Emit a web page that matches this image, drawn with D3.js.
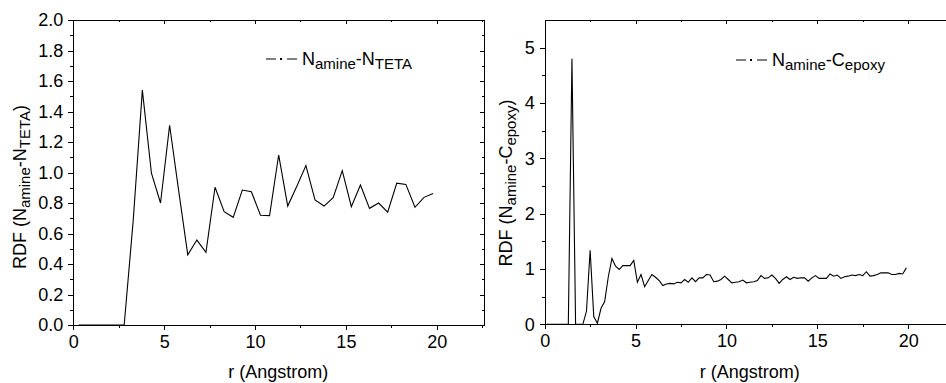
<!DOCTYPE html>
<html>
  <head>
    <meta charset="utf-8">
    <style>
      body {
          margin: 0;
          background: #fff;
          font-family: Arial, "Liberation Sans", sans-serif;
      }
      .axis path, .axis line {
          stroke: #000;
          stroke-width: 1;
          shape-rendering: crispEdges;
      }
      .axis text {
          font-size: 18px;
          fill: #000;
          font-family: Arial, "Liberation Sans", sans-serif;
      }
      .line {
          fill: none;
          stroke: #000;
          stroke-width: 1.1;
      }
      .title {
          font-size: 18px;
          fill: #000;
      }
    </style>
  </head>
  <body>
    <script src="https://d3js.org/d3.v7.min.js"></script>
    <script>
      // r values and RDF for N_amine - N_TETA (left panel)
      var rTeta = [0.3, 0.8, 1.3, 1.8, 2.3, 2.8, 3.3, 3.8, 4.3, 4.8,
                   5.3, 5.8, 6.3, 6.8, 7.3, 7.8, 8.3, 8.8, 9.3, 9.8,
                   10.3, 10.8, 11.3, 11.8, 12.3, 12.8, 13.3, 13.8, 14.3, 14.8,
                   15.3, 15.8, 16.3, 16.8, 17.3, 17.8, 18.3, 18.8, 19.3, 19.8];
      var gTeta = [0, 0, 0, 0, 0, 0, 0.69, 1.54, 0.995, 0.80,
                   1.31, 0.88, 0.46, 0.557, 0.477, 0.903, 0.743, 0.706, 0.885, 0.874,
                   0.72, 0.717, 1.115, 0.78, 0.91, 1.045, 0.82, 0.78, 0.835, 1.012,
                   0.776, 0.918, 0.765, 0.80, 0.74, 0.93, 0.922, 0.772, 0.837, 0.863];

      // r values and RDF for N_amine - C_epoxy (right panel)
      var rEpoxy = [0.1, 0.3, 0.5, 0.7, 0.9, 1.1, 1.3, 1.5, 1.7, 1.9,
                    2.1, 2.3, 2.5, 2.7, 2.9, 3.1, 3.3, 3.5, 3.7, 3.9,
                    4.1, 4.3, 4.5, 4.7, 4.9, 5.1, 5.3, 5.5, 5.7, 5.9,
                    6.1, 6.3, 6.5, 6.7, 6.9, 7.1, 7.3, 7.5, 7.7, 7.9,
                    8.1, 8.3, 8.5, 8.7, 8.9, 9.1, 9.3, 9.5, 9.7, 9.9,
                    10.1, 10.3, 10.5, 10.7, 10.9, 11.1, 11.3, 11.5, 11.7, 11.9,
                    12.1, 12.3, 12.5, 12.7, 12.9, 13.1, 13.3, 13.5, 13.7, 13.9,
                    14.1, 14.3, 14.5, 14.7, 14.9, 15.1, 15.3, 15.5, 15.7, 15.9,
                    16.1, 16.3, 16.5, 16.7, 16.9, 17.1, 17.3, 17.5, 17.7, 17.9,
                    18.1, 18.3, 18.5, 18.7, 18.9, 19.1, 19.3, 19.5, 19.7, 19.9];
      var gEpoxy = [0, 0, 0, 0, 0, 0, 0, 4.80, 0, 0,
                    0, 0.24, 1.34, 0.14, 0.02, 0.29, 0.41, 0.86, 1.19, 1.05,
                    0.99, 1.06, 1.06, 1.06, 1.155, 0.76, 0.90, 0.68, 0.79, 0.90,
                    0.85, 0.79, 0.70, 0.73, 0.74, 0.73, 0.76, 0.75, 0.81, 0.76,
                    0.84, 0.77, 0.84, 0.84, 0.90, 0.89, 0.77, 0.78, 0.81, 0.87,
                    0.81, 0.75, 0.76, 0.77, 0.80, 0.75, 0.76, 0.77, 0.79, 0.88,
                    0.83, 0.84, 0.89, 0.83, 0.74, 0.81, 0.86, 0.81, 0.85, 0.83,
                    0.84, 0.84, 0.78, 0.84, 0.88, 0.83, 0.83, 0.83, 0.91, 0.87,
                    0.89, 0.83, 0.86, 0.87, 0.89, 0.88, 0.90, 0.88, 0.95, 0.87,
                    0.88, 0.90, 0.93, 0.93, 0.93, 0.90, 0.90, 0.92, 0.91, 1.02];

      // tick values
      var xMajor = [0, 5, 10, 15, 20];
      var xMinor = [2.5, 7.5, 12.5, 17.5, 22.5];
      var yMajorTeta = [0, 0.2, 0.4, 0.6, 0.8, 1.0, 1.2, 1.4, 1.6, 1.8, 2.0];
      var yMinorTeta = [0.1, 0.3, 0.5, 0.7, 0.9, 1.1, 1.3, 1.5, 1.7, 1.9];
      var yMajorEpoxy = [0, 1, 2, 3, 4, 5];
      var yMinorEpoxy = [0.5, 1.5, 2.5, 3.5, 4.5];

      var width = 946, height = 383;

      var svg = d3.select("body").append("svg")
          .attr("width", width)
          .attr("height", height);

      function drawPanel(p) {
          var x = d3.scaleLinear().domain([0, 22.6]).range([p.left, p.left + 410.7]);
          var y = d3.scaleLinear().domain(p.yDomain).range([p.bottom, 20]);
          var g = svg.append("g");

          // mirror axes (top and right), ticks pointing inward
          g.append("g").attr("class", "axis")
              .attr("transform", "translate(0,20)")
              .call(d3.axisBottom(x).tickValues(xMajor).tickSize(4).tickFormat("").tickSizeOuter(0));
          g.append("g").attr("class", "axis")
              .attr("transform", "translate(0,20)")
              .call(d3.axisBottom(x).tickValues(xMinor).tickSize(2).tickFormat("").tickSizeOuter(0));
          g.append("g").attr("class", "axis")
              .attr("transform", "translate(" + x.range()[1] + ",0)")
              .call(d3.axisLeft(y).tickValues(p.yMajor).tickSize(4).tickFormat("").tickSizeOuter(0));
          g.append("g").attr("class", "axis")
              .attr("transform", "translate(" + x.range()[1] + ",0)")
              .call(d3.axisLeft(y).tickValues(p.yMinor).tickSize(2).tickFormat("").tickSizeOuter(0));

          // data line
          var data = p.r.map(function(d, i) { return [d, p.g[i]]; });
          g.append("path")
              .datum(data)
              .attr("class", "line")
              .attr("d", d3.line()
                    .x(function(d) { return x(d[0]); })
                    .y(function(d) { return y(d[1]); }));

          // bottom axis
          g.append("g").attr("class", "axis")
              .attr("transform", "translate(0," + p.bottom + ")")
              .call(d3.axisBottom(x).tickValues(xMajor).tickSize(5).tickPadding(5).tickSizeOuter(0));
          g.append("g").attr("class", "axis")
              .attr("transform", "translate(0," + p.bottom + ")")
              .call(d3.axisBottom(x).tickValues(xMinor).tickSize(3).tickFormat("").tickSizeOuter(0));

          // left axis
          g.append("g").attr("class", "axis")
              .attr("transform", "translate(" + p.left + ",0)")
              .call(d3.axisLeft(y).tickValues(p.yMajor).tickSize(5).tickPadding(5)
                    .tickFormat(p.yFormat).tickSizeOuter(0));
          g.append("g").attr("class", "axis")
              .attr("transform", "translate(" + p.left + ",0)")
              .call(d3.axisLeft(y).tickValues(p.yMinor).tickSize(3).tickFormat("").tickSizeOuter(0));

          // x title
          g.append("text")
              .attr("class", "title")
              .attr("x", p.left + 205)
              .attr("y", 378)
              .attr("text-anchor", "middle")
              .text("r (Angstrom)");

          // y title with subscripts
          var yt = g.append("text")
              .attr("class", "title")
              .attr("text-anchor", "middle")
              .attr("transform", "translate(" + p.ytX + "," + p.ytY + ") rotate(-90)");
          yt.append("tspan").text("RDF (N");
          yt.append("tspan").attr("dy", 4).style("font-size", "15px").text("amine");
          yt.append("tspan").attr("dy", -4).text("-" + p.sym);
          yt.append("tspan").attr("dy", 4).style("font-size", "15px").text(p.sub);
          yt.append("tspan").attr("dy", -4).text(")");

          // legend
          var ly = p.legY;
          var lx = p.legX;
          g.append("line").attr("x1", lx).attr("x2", lx + 10).attr("y1", ly).attr("y2", ly)
              .attr("stroke", "#000").attr("stroke-width", 1);
          g.append("rect").attr("x", lx + 14).attr("y", ly - 1).attr("width", 2).attr("height", 2)
              .attr("fill", "#000");
          g.append("line").attr("x1", lx + 21).attr("x2", lx + 31).attr("y1", ly).attr("y2", ly)
              .attr("stroke", "#000").attr("stroke-width", 1);
          var lt = g.append("text")
              .attr("class", "title")
              .attr("x", lx + 36)
              .attr("y", ly + 6);
          lt.append("tspan").text("N");
          lt.append("tspan").attr("dy", 4).style("font-size", "15px").text("amine");
          lt.append("tspan").attr("dy", -4).text("-" + p.sym);
          lt.append("tspan").attr("dy", 4).style("font-size", "15px").text(p.sub);
      }

      drawPanel({
          left: 73.3, bottom: 325, yDomain: [0, 2.0],
          yMajor: yMajorTeta, yMinor: yMinorTeta, yFormat: d3.format(".1f"),
          r: rTeta, g: gTeta, sym: "N", sub: "TETA",
          ytX: 26, ytY: 187, legX: 266, legY: 59
      });

      drawPanel({
          left: 544.7, bottom: 324.3, yDomain: [0, 5.5],
          yMajor: yMajorEpoxy, yMinor: yMinorEpoxy, yFormat: d3.format("d"),
          r: rEpoxy, g: gEpoxy, sym: "C", sub: "epoxy",
          ytX: 512, ytY: 183, legX: 736, legY: 60
      });
    </script>
  </body>
</html>
